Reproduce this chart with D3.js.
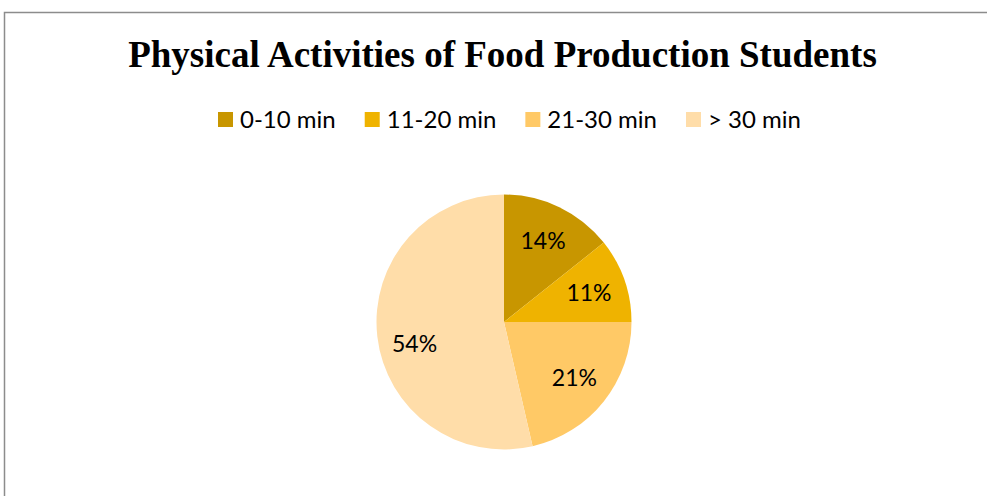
<!DOCTYPE html>
<html><head><meta charset="utf-8">
<script src="https://cdn.jsdelivr.net/npm/d3@7"></script>
<style>html,body{margin:0;padding:0;background:#fff;}svg{display:block;}</style>
</head><body>
<svg id="chart" width="987" height="496"></svg>
<script>
const title = "Physical Activities of Food Production Students";
const categories = ["0-10 min", "11-20 min", "21-30 min", "> 30 min"];
const values = [14.3, 10.7, 21.4, 53.6];
const colors = ["#C89600", "#EFB300", "#FFC966", "#FFDDA9"];

const svg = d3.select("#chart");
const W = 987, H = 496;

// chart area border
svg.append("rect").attr("x", 4.5).attr("y", 12.5).attr("width", W + 10).attr("height", H + 10)
  .attr("fill", "#fff").attr("stroke", "#8c8c8c").attr("stroke-width", 1.5);

// title
svg.append("text").attr("x", 502.5).attr("y", 67).attr("text-anchor", "middle")
  .attr("font-family", "'Liberation Serif', 'Times New Roman', serif").attr("font-weight", "bold")
  .attr("font-size", 37).attr("fill", "#000").text(title);

// legend
const leg = svg.append("g");
let lx = 218;
const legendGap = 29;
categories.forEach((c, i) => {
  const g = leg.append("g");
  g.append("rect").attr("x", lx).attr("y", 112).attr("width", 15).attr("height", 15).attr("fill", colors[i]);
  const t = g.append("text").attr("x", lx + 22).attr("y", 128).attr("font-family", "Lato, 'Open Sans', sans-serif")
    .attr("font-size", 24).attr("fill", "#000").text(c);
  lx += 22 + t.node().getComputedTextLength() + legendGap;
});

// pie
const cx = 504, cy = 322, r = 127.5;
const pie = d3.pie().sort(null).value(d => d);
const arc = d3.arc().innerRadius(0).outerRadius(r);
const labelArc = d3.arc().innerRadius(90).outerRadius(90);
const arcs = pie(values);
const total = d3.sum(values);
const pg = svg.append("g").attr("transform", `translate(${cx},${cy})`);
pg.selectAll("path").data(arcs).join("path").attr("d", arc).attr("fill", (d, i) => colors[i]);
pg.selectAll("text").data(arcs).join("text")
  .attr("transform", d => {
    const [x, y] = labelArc.centroid(d);
    // large slice label sits a little lower (best-fit placement)
    return `translate(${x},${d.value / total > 0.5 ? y + 12 : y})`;
  })
  .attr("text-anchor", "middle").attr("dy", "0.36em")
  .attr("font-family", "Lato, 'Open Sans', sans-serif").attr("font-size", 23).attr("fill", "#000")
  .text(d => Math.round(d.value / total * 100) + "%");
</script>
</body></html>
